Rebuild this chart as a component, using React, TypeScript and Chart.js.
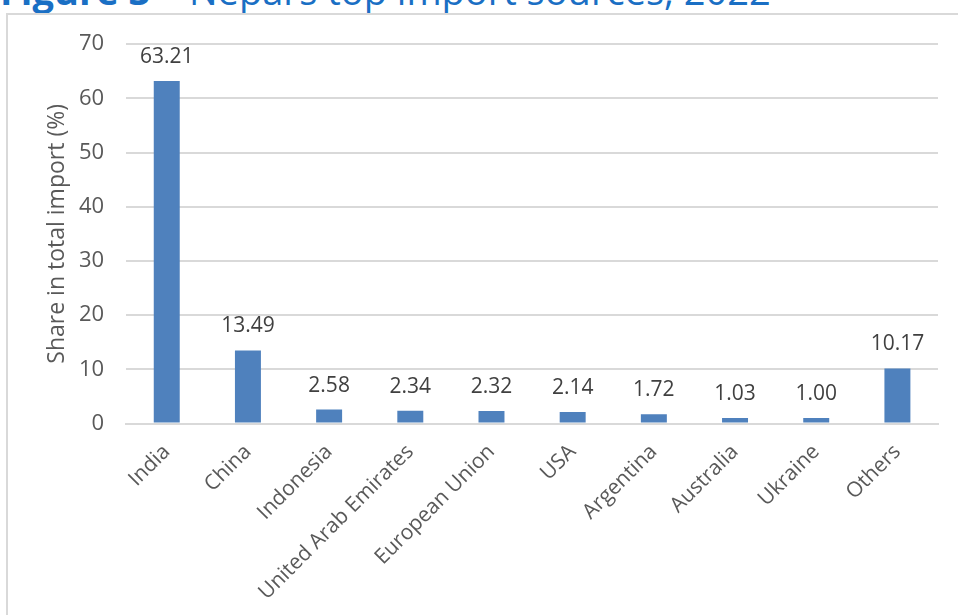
import React, { useEffect, useRef } from "react";
import { Chart, registerables } from "chart.js";

Chart.register(...registerables);

const categories = [
  "India",
  "China",
  "Indonesia",
  "United Arab Emirates",
  "European Union",
  "USA",
  "Argentina",
  "Australia",
  "Ukraine",
  "Others",
];
const shares = [63.21, 13.49, 2.58, 2.34, 2.32, 2.14, 1.72, 1.03, 1.0, 10.17];
const yTicks = [0, 10, 20, 30, 40, 50, 60, 70];
const yTitle = "Share in total import (%)";

const FONT = "'Open Sans', 'Noto Sans', sans-serif";
const TEXT = "#595959";
const BAR = "#4f81bd";

const labelPlugin = {
  id: "valueLabels",
  afterDatasetsDraw(chart: any) {
    const ctx = chart.ctx;
    const meta = chart.getDatasetMeta(0);
    ctx.save();
    ctx.font = `21px ${FONT}`;
    ctx.fillStyle = "#404040";
    ctx.textAlign = "center";
    ctx.textBaseline = "middle";
    meta.data.forEach((el: any, i: number) => {
      const v = chart.data.datasets[0].data[i] as number;
      ctx.fillText(v.toFixed(2), el.x, el.y - 24);
    });
    // y-axis title
    const a = chart.chartArea;
    ctx.font = `23px ${FONT}`;
    ctx.fillStyle = TEXT;
    ctx.translate(a.left - 69, (a.top + a.bottom) / 2);
    ctx.rotate(-Math.PI / 2);
    ctx.fillText(yTitle, 0, 0);
    ctx.restore();
  },
};

export default function App() {
  const ref = useRef<HTMLCanvasElement>(null);
  useEffect(() => {
    if (!ref.current) return;
    const chart = new Chart(ref.current, {
      type: "bar",
      data: {
        labels: categories,
        datasets: [
          {
            data: shares,
            backgroundColor: BAR,
            barPercentage: 0.32,
            categoryPercentage: 1,
          },
        ],
      },
      options: {
        animation: false,
        responsive: false,
        maintainAspectRatio: false,
        layout: { padding: { top: 10, right: 21, bottom: 2, left: 49 } },
        plugins: { legend: { display: false }, tooltip: { enabled: false } },
        scales: {
          x: {
            grid: { display: false },
            border: { color: "#d9d9d9", width: 2 },
            ticks: {
              color: TEXT,
              font: { family: FONT, size: 21 },
              maxRotation: 45,
              minRotation: 45,
              padding: 8,
            },
          },
          y: {
            min: 0,
            max: 70,
            afterBuildTicks: (axis: any) => {
              axis.ticks = yTicks.map((v) => ({ value: v }));
            },
            grid: { color: "#d9d9d9", lineWidth: 2, drawTicks: false },
            border: { display: false },
            ticks: {
              color: TEXT,
              font: { family: FONT, size: 22 },
              padding: 22,
            },
          },
        },
      },
      plugins: [labelPlugin],
    });
    return () => chart.destroy();
  }, []);

  return (
    <div
      style={{
        position: "fixed",
        left: 0,
        top: 0,
        width: 958,
        height: 615,
        overflow: "hidden",
        background: "#fff",
      }}
    >
      <div
        style={{
          position: "absolute",
          left: 0,
          top: -29,
          whiteSpace: "nowrap",
          fontFamily: FONT,
          fontSize: 38,
          lineHeight: "38px",
          color: "#1a6fc4",
        }}
      >
        <b>Figure 3</b>
        {" \u2013 Nepal\u2019s top import sources, 2022"}
      </div>
      <div
        style={{
          position: "absolute",
          left: 6,
          top: 13,
          width: 980,
          height: 640,
          border: "2px solid #d9d9d9",
          boxSizing: "border-box",
        }}
      />
      <canvas
        ref={ref}
        width={951}
        height={606}
        style={{ position: "absolute", left: 8, top: 9, width: 951, height: 606 }}
      />
    </div>
  );
}
